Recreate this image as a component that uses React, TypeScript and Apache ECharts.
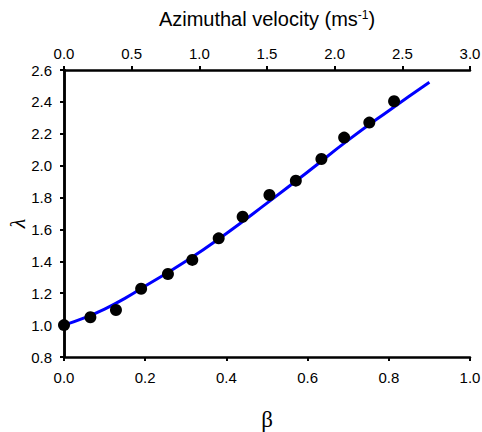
import React, { useEffect, useRef } from "react";
import * as echarts from "echarts";

const betaPoints = [0.0, 0.065, 0.128, 0.19, 0.256, 0.316, 0.381, 0.44, 0.506, 0.571, 0.634, 0.69, 0.752, 0.813];
const lambdaPoints = [1.0, 1.049, 1.095, 1.228, 1.321, 1.409, 1.544, 1.68, 1.816, 1.906, 2.042, 2.176, 2.27, 2.404];

const curveBeta = [0.0, 0.05, 0.1, 0.15, 0.2, 0.3, 0.4, 0.5, 0.6, 0.7, 0.8, 0.9];
const curveLambda = [1.0, 1.045, 1.1, 1.168, 1.245, 1.4, 1.575, 1.765, 1.96, 2.16, 2.345, 2.523];

const bottomTicks = [0, 1, 0.2];
const topTicks = [0, 3, 0.5];
const yTicks = [0.8, 2.6, 0.2];

export default function App() {
  const ref = useRef<HTMLDivElement>(null);
  useEffect(() => {
    if (!ref.current) return;
    const chart = echarts.init(ref.current, undefined, { renderer: "svg" });
    const font = "'Liberation Sans', Arial, sans-serif";
    const serif = "'Liberation Serif', 'Times New Roman', serif";
    const axisLine = { show: true, lineStyle: { color: "#000", width: 2.5 } };
    const axisTick = { show: true, length: 4, lineStyle: { color: "#000", width: 2 } };
    const fmt = (v: number) => v.toFixed(1);
    chart.setOption({
      animation: false,
      backgroundColor: "#fff",
      grid: { left: 64, right: 12, top: 70, bottom: 75, show: false, containLabel: false, outerBoundsMode: "none" },
      xAxis: [
        {
          type: "value", position: "bottom", min: bottomTicks[0], max: bottomTicks[1], interval: bottomTicks[2],
          axisLine, axisTick, splitLine: { show: false },
          axisLabel: { formatter: fmt, color: "#000", fontSize: 15, fontFamily: font, margin: 13 },
        },
        {
          type: "value", position: "top", min: topTicks[0], max: topTicks[1], interval: topTicks[2],
          axisLine, axisTick, splitLine: { show: false },
          axisLabel: { formatter: fmt, color: "#000", fontSize: 15, fontFamily: font, margin: 9 },
        },
      ],
      yAxis: [
        {
          type: "value", position: "left", min: yTicks[0], max: yTicks[1], interval: yTicks[2],
          axisLine, axisTick, splitLine: { show: false },
          axisLabel: { formatter: fmt, color: "#000", fontSize: 15, fontFamily: font, margin: 12 },
          name: "λ", nameLocation: "middle", nameGap: 36, nameRotate: 90, nameMoveOverlap: false,
          nameTextStyle: { fontSize: 22, fontStyle: "italic", fontFamily: serif, color: "#000", padding: [0, 20, 0, 0] },
        },
        {
          type: "value", position: "right", min: yTicks[0], max: yTicks[1], interval: yTicks[2],
          axisLine, axisTick: { show: false }, splitLine: { show: false }, axisLabel: { show: false },
        },
      ],
      graphic: [
        {
          type: "text", x: 267, y: 19,
          style: {
            text: "{a|Azimuthal velocity (ms}{s|-1}{a|)}",
            align: "center", verticalAlign: "middle",
            rich: {
              a: { fontSize: 20, fontFamily: font, fill: "#000", color: "#000" },
              s: { fontSize: 12, fontFamily: font, fill: "#000", color: "#000", verticalAlign: "top", padding: [0, 0, 9, 0] },
            },
          },
        },
        {
          type: "text", x: 267, y: 419,
          style: { text: "β", fontSize: 23, fontFamily: serif, fill: "#000", align: "center", verticalAlign: "middle" },
        },
      ],
      series: [
        {
          type: "line", xAxisIndex: 0, yAxisIndex: 0, smooth: true, showSymbol: false,
          data: curveBeta.map((b, i) => [b, curveLambda[i]]),
          lineStyle: { color: "#0000ff", width: 3 }, z: 2,
        },
        {
          type: "scatter", xAxisIndex: 0, yAxisIndex: 0, symbolSize: 12,
          data: betaPoints.map((b, i) => [b, lambdaPoints[i]]),
          itemStyle: { color: "#000", opacity: 1 }, z: 3,
        },
      ],
    });
    return () => chart.dispose();
  }, []);
  return <div ref={ref} style={{ position: "fixed", left: 0, top: 0, width: 482, height: 432 }} />;
}
